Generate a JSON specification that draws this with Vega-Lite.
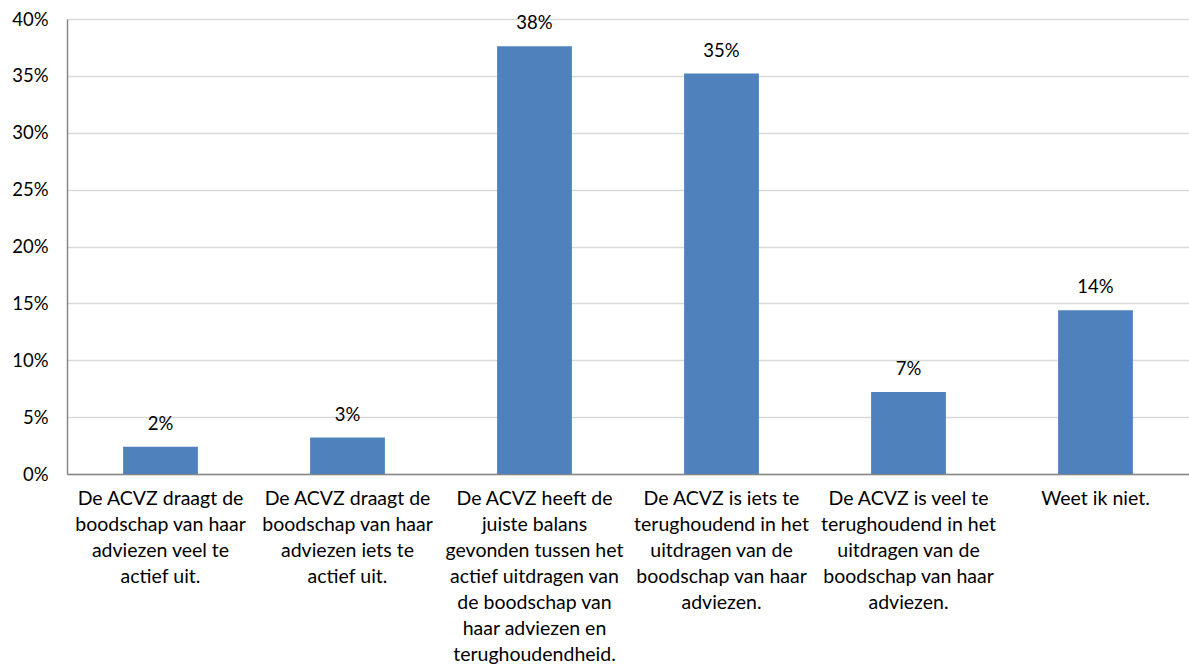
{
  "$schema": "https://vega.github.io/schema/vega-lite/v6.json",
  "autosize": "none",
  "width": 1122,
  "height": 455,
  "padding": {"left": 67, "top": 19, "right": 0, "bottom": 194},
  "background": "white",
  "config": {
    "view": {"stroke": null},
    "font": "Lato",
    "axis": {"labelFont": "Lato", "labelColor": "#000000"}
  },
  "data": {
    "values": [
      {"categorie": "De ACVZ draagt de|boodschap van haar|adviezen veel te|actief uit.", "aandeel": 0.024},
      {"categorie": "De ACVZ draagt de|boodschap van haar|adviezen iets te|actief uit.", "aandeel": 0.032},
      {"categorie": "De ACVZ heeft de|juiste balans|gevonden tussen het|actief uitdragen van|de boodschap van|haar adviezen en|terughoudendheid.", "aandeel": 0.376},
      {"categorie": "De ACVZ is iets te|terughoudend in het|uitdragen van de|boodschap van haar|adviezen.", "aandeel": 0.352},
      {"categorie": "De ACVZ is veel te|terughoudend in het|uitdragen van de|boodschap van haar|adviezen.", "aandeel": 0.072},
      {"categorie": "Weet ik niet.", "aandeel": 0.144}
    ]
  },
  "encoding": {
    "x": {
      "field": "categorie",
      "type": "nominal",
      "sort": null,
      "scale": {"paddingInner": 0.6, "paddingOuter": 0.3},
      "axis": {
        "title": null,
        "labelAngle": 0,
        "labelExpr": "split(datum.value, '|')",
        "labelFontSize": 19.5,
        "labelLineHeight": 26,
        "labelPadding": 15,
        "labelBaseline": "top",
        "labelAlign": "center",
        "labelLimit": 0,
        "ticks": false,
        "domainColor": "#868686",
        "domainWidth": 1.5,
        "grid": false
      }
    },
    "y": {
      "field": "aandeel",
      "type": "quantitative",
      "scale": {"domain": [0, 0.4], "nice": false},
      "axis": {
        "title": null,
        "format": ".0%",
        "values": [0, 0.05, 0.1, 0.15, 0.2, 0.25, 0.3, 0.35, 0.4],
        "labelFontSize": 18.5,
        "labelPadding": 19,
        "ticks": false,
        "domainColor": "#868686",
        "domainWidth": 1.5,
        "grid": true,
        "gridColor": "#d9d9d9",
        "gridWidth": 1.5
      }
    }
  },
  "layer": [
    {"mark": {"type": "bar", "color": "#4f81bd"}},
    {
      "mark": {"type": "text", "baseline": "alphabetic", "dy": -17, "fontSize": 18.5, "color": "#000000"},
      "encoding": {"text": {"field": "aandeel", "type": "quantitative", "format": ".0%"}}
    }
  ]
}
